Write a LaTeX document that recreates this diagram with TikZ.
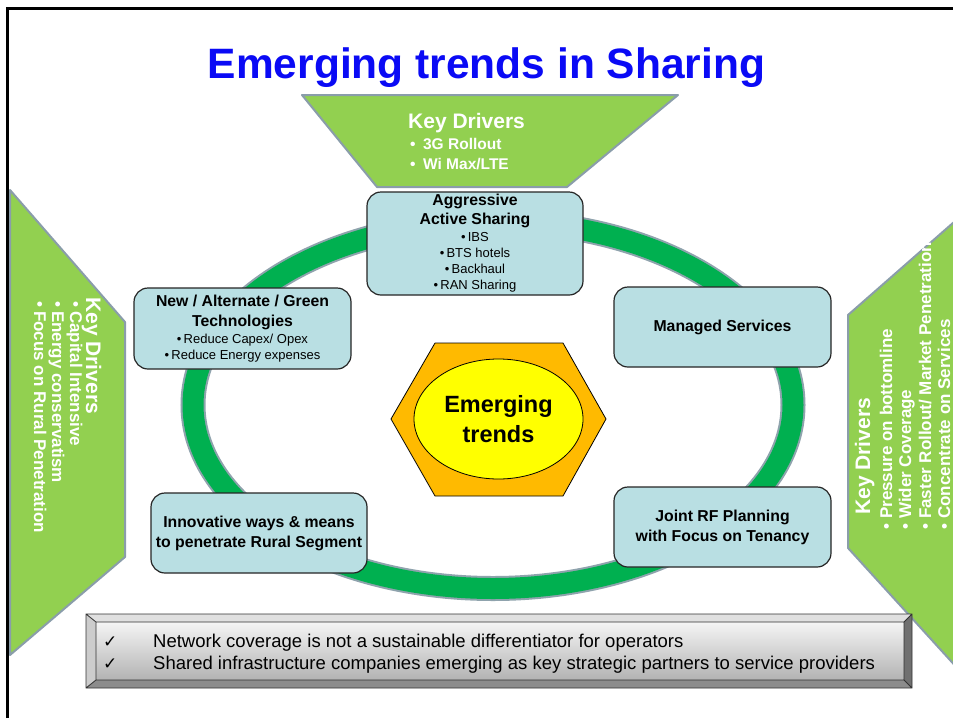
\documentclass[tikz,border=0pt]{standalone}
\usepackage{fontspec}
\setmainfont{Liberation Sans}
\newfontfamily\symfont{DejaVu Sans}
\usetikzlibrary{shapes.geometric}
\definecolor{ttlblue}{HTML}{0A0AF5}
\definecolor{kdgreen}{HTML}{92D050}
\definecolor{kdedge}{HTML}{8A9DAA}
\definecolor{ringgreen}{HTML}{00B050}
\definecolor{ringedge}{HTML}{8FA3AD}
\definecolor{boxfill}{HTML}{B9DFE3}
\definecolor{hexfill}{HTML}{FFBA00}
\definecolor{ellfill}{HTML}{FFFF00}
\definecolor{bevtop}{HTML}{E0E0E0}
\definecolor{bevleft}{HTML}{CCCCCC}
\definecolor{bevright}{HTML}{707070}
\definecolor{bevbot}{HTML}{8C8C8C}
\newcommand{\bt}{\fontsize{15.8}{19}\selectfont\bfseries}
\begin{document}
\begin{tikzpicture}[x=1pt,y=-1pt,
  kd/.style={fill=kdgreen, draw=kdedge, line width=2pt, line join=round},
  tbox/.style={draw=black!85, line width=1.2pt, fill=boxfill, rounded corners=14pt,
    minimum width=217pt, minimum height=80pt, align=center, inner sep=0pt,
    font=\fontsize{13}{16.3}\selectfont},
  kdtxt/.style={text=white, font=\fontsize{17}{19}\selectfont\bfseries, inner sep=0pt, anchor=base west},
  kdhead/.style={kdtxt, font=\fontsize{21}{24}\selectfont\bfseries},
]
\useasboundingbox (0,0) rectangle (953,718);
\fill[white] (0,0) rectangle (953,718);

% frame
\draw[line width=3pt] (7.5,718) -- (7.5,8.5) -- (953,8.5);

% title
\node[anchor=base, text=ttlblue, font=\fontsize{42.5}{50}\selectfont\bfseries, inner sep=0pt] (title) at (486.5,78) {Emerging trends in Sharing};

% key driver shapes
\draw[kd] (302,95) -- (678,95) -- (567,187) -- (377,187) -- cycle;
\draw[kd] (10,190) -- (125,322) -- (125,557) -- (10,655) -- cycle;
\draw[kd] (848,315) -- (970,208) -- (970,682) -- (848,548) -- cycle;

% top key drivers
\node[kdhead] (tkd) at (408,128) {Key Drivers};
\node[kdtxt, font=\fontsize{15.5}{18}\selectfont\bfseries] (tk1) at (410,149) {•\hspace{7.5pt}3G Rollout};
\node[kdtxt, font=\fontsize{15.5}{18}\selectfont\bfseries] (tk2) at (410,169) {•\hspace{7.5pt}Wi Max/LTE};

% left key drivers
\node[kdhead, rotate=-90] (lkd) at (86,297) {Key Drivers};
\node[kdtxt, rotate=-90] (lk1) at (70,301) {•\hspace{4pt}Capital Intensive};
\node[kdtxt, rotate=-90] (lk2) at (52,301) {•\hspace{4pt}Energy conservatism};
\node[kdtxt, rotate=-90] (lk3) at (34,301) {•\hspace{4pt}Focus on Rural Penetration};

% right key drivers
\node[kdhead, rotate=90] (rkd) at (870,515) {Key Drivers};
\node[kdtxt, rotate=90] (rk1) at (892,530) {•\hspace{5pt}Pressure on bottomline};
\node[kdtxt, rotate=90] (rk2) at (911,530) {•\hspace{5pt}Wider Coverage};
\node[kdtxt, rotate=90] (rk3) at (931,530) {•\hspace{5pt}Faster Rollout/ Market Penetration};
\node[kdtxt, rotate=90] (rk4) at (950,530) {•\hspace{5pt}Concentrate on Services};

% ring
\draw[ringedge, line width=25pt] (493,405) ellipse [x radius=300pt, y radius=183.5pt];
\draw[ringgreen, line width=21pt] (493,405) ellipse [x radius=300pt, y radius=183.5pt];

% boxes
\node[tbox, minimum height=103pt, minimum width=216pt] (aas) at (475,243.5)
  {{\bt Aggressive}\\[2.7pt]{\bt Active Sharing}\\•\,IBS\\•\,BTS hotels\\•\,Backhaul\\•\,RAN Sharing};
\node[tbox, minimum height=81pt] (green) at (242.5,328.5)
  {{\bt New / Alternate / Green}\\[3.7pt]{\bt Technologies}\\[0.7pt]•\,Reduce Capex/ Opex\\•\,Reduce Energy expenses};
\node[tbox, minimum width=216pt] (rural) at (259,533)
  {{\bt Innovative ways \& means}\\[3.7pt]{\bt to penetrate Rural Segment}};
\node[tbox] (managed) at (722.5,327) {{\bt Managed Services}};
\node[tbox] (jrf) at (722.5,527)
  {{\bt Joint RF Planning}\\[3.7pt]{\bt with Focus on Tenancy}};

% centre
\draw[fill=hexfill, line width=0.8pt, line join=round] (391,419) -- (435,343) -- (563,343) -- (606,419) -- (563,496) -- (435,496) -- cycle;
\node[ellipse, draw, line width=0.8pt, fill=ellfill, minimum width=169pt, minimum height=120pt,
  inner sep=0pt, align=center, font=\fontsize{23.5}{29.5}\selectfont\bfseries] (core) at (498.5,419) {Emerging\\trends};

% bottom bevelled box
\shade[top color=black!4, bottom color=black!30] (96,622) rectangle (904,680);
\fill[bevtop] (86,614) -- (912,614) -- (904,622) -- (96,622) -- cycle;
\fill[bevleft] (86,614) -- (96,622) -- (96,680) -- (86,688) -- cycle;
\fill[bevright] (912,614) -- (912,688) -- (904,680) -- (904,622) -- cycle;
\fill[bevbot] (86,688) -- (912,688) -- (904,680) -- (96,680) -- cycle;
\draw[black!80, line width=0.8pt] (86,614) rectangle (912,688) (96,622) rectangle (904,680)
  (86,614) -- (96,622) (912,614) -- (904,622) (912,688) -- (904,680) (86,688) -- (96,680);
\node[anchor=base west, inner sep=0pt, font=\fontsize{18.5}{22}\selectfont] (notes) at (103,647)
  {\begin{tabular}[t]{@{}l@{}l@{}}
   \makebox[50pt][l]{\symfont\fontsize{17}{18}\selectfont ✓} & Network coverage is not a sustainable differentiator for operators\\
   \makebox[50pt][l]{\symfont\fontsize{17}{18}\selectfont ✓} & Shared infrastructure companies emerging as key strategic partners to service providers
   \end{tabular}};
\end{tikzpicture}
\end{document}
